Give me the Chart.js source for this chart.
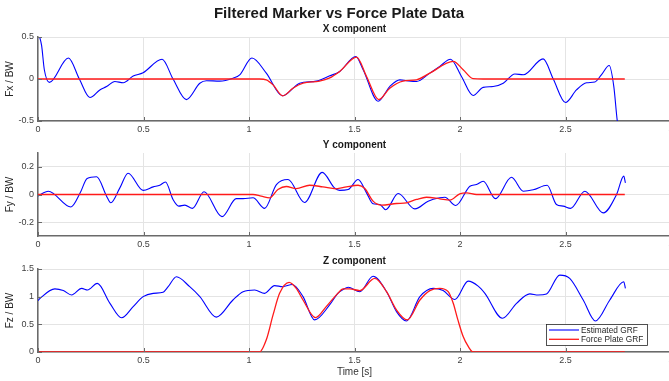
<!DOCTYPE html>
<html>
<head>
<meta charset="utf-8">
<script src="https://cdn.jsdelivr.net/npm/chart.js@4.4.1/dist/chart.umd.min.js"></script>
<style>
  html, body { margin: 0; padding: 0; background: #fff; }
  #page { position: relative; width: 669px; height: 381px; overflow: hidden; background: #fff; }
  .panel { position: absolute; left: 0; width: 690px; }
  canvas { display: block; }
</style>
</head>
<body>
<div id="page">
  <div class="panel" style="top:0;height:140px"><canvas id="cx" width="690" height="140"></canvas></div>
  <div class="panel" style="top:140px;height:110px"><canvas id="cy" width="690" height="110"></canvas></div>
  <div class="panel" style="top:250px;height:131px"><canvas id="cz" width="690" height="131"></canvas></div>
</div>
<script>
// ---- data: ground reaction force normalised by body weight ----
const timeTicks = [0, 0.5, 1, 1.5, 2, 2.5, 3];
const timeTickLabels = ['0', '0.5', '1', '1.5', '2', '2.5', '3'];
const fxTicks = [-0.5, 0, 0.5];
const fxTickLabels = ['-0.5', '0', '0.5'];
const fyTicks = [-0.2, 0, 0.2];
const fyTickLabels = ['-0.2', '0', '0.2'];
const fzTicks = [0, 0.5, 1, 1.5];
const fzTickLabels = ['0', '0.5', '1', '1.5'];

// X component
const fxEstTime = [0, 0.017, 0.030, 0.054, 0.144, 0.196, 0.246, 0.293, 0.325, 0.364, 0.404, 0.451, 0.498, 0.588, 0.640, 0.703, 0.767, 0.798, 0.861, 0.924, 0.956, 1.014, 1.082, 1.158, 1.240, 1.319, 1.380, 1.430, 1.506, 1.541, 1.612, 1.667, 1.715, 1.746, 1.794, 1.857, 1.904, 1.955, 2.007, 2.062, 2.110, 2.157, 2.205, 2.260, 2.300, 2.394, 2.442, 2.500, 2.552, 2.600, 2.639, 2.670, 2.707, 2.729, 2.745, 2.752];
const fxEst = [0.56, 0.40, 0.11, -0.04, 0.25, 0.0, -0.22, -0.13, -0.09, -0.03, -0.045, 0.035, 0.075, 0.235, 0.0, -0.245, -0.05, -0.02, -0.025, 0.01, 0.05, 0.25, 0.07, -0.2, -0.05, -0.025, 0.035, 0.09, 0.268, 0.11, -0.264, -0.09, -0.01, -0.02, -0.03, 0.07, 0.15, 0.236, 0.03, -0.196, -0.10, -0.09, -0.05, 0.06, 0.05, 0.24, 0.0, -0.28, -0.13, -0.045, -0.035, 0.05, 0.16, -0.09, -0.49, -0.6];
const fxPlateTime = [0, 1.050, 1.082, 1.114, 1.160, 1.208, 1.256, 1.334, 1.380, 1.430, 1.510, 1.557, 1.615, 1.667, 1.730, 1.794, 1.857, 1.968, 2.015, 2.062, 2.110, 2.781];
const fxPlate = [0, 0, -0.01, -0.07, -0.2, -0.11, -0.05, -0.025, 0.01, 0.09, 0.26, 0.03, -0.245, -0.11, -0.025, -0.01, 0.07, 0.21, 0.11, 0.005, 0, 0];

// Y component
const fyEstTime = [0, 0.049, 0.156, 0.200, 0.233, 0.278, 0.325, 0.345, 0.388, 0.427, 0.498, 0.546, 0.577, 0.604, 0.640, 0.667, 0.696, 0.732, 0.787, 0.872, 0.940, 0.972, 1.019, 1.074, 1.130, 1.185, 1.263, 1.347, 1.405, 1.430, 1.470, 1.517, 1.557, 1.588, 1.620, 1.648, 1.707, 1.786, 1.849, 1.904, 1.928, 1.980, 2.047, 2.078, 2.110, 2.168, 2.244, 2.300, 2.347, 2.413, 2.457, 2.489, 2.524, 2.592, 2.679, 2.742, 2.776, 2.784];
const fyEst = [-0.01, 0.024, -0.09, 0.012, 0.116, 0.128, -0.012, -0.06, 0.048, 0.154, 0.03, 0.055, 0.067, 0.09, -0.036, -0.084, -0.077, -0.1, 0.02, -0.16, -0.03, -0.03, -0.024, -0.1, 0.072, 0.108, -0.058, 0.16, 0.048, 0.03, 0.036, 0.108, 0.012, -0.067, -0.072, -0.11, 0.007, -0.104, -0.048, -0.024, -0.02, -0.08, 0.06, 0.072, 0.096, -0.03, 0.125, 0.024, 0.034, 0.067, -0.072, -0.084, -0.1, 0.024, -0.133, 0, 0.133, 0.084];
const fyPlateTime = [0, 1.019, 1.058, 1.098, 1.137, 1.177, 1.224, 1.287, 1.350, 1.413, 1.462, 1.517, 1.549, 1.588, 1.628, 1.699, 1.746, 1.794, 1.841, 1.904, 1.952, 1.999, 2.031, 2.078, 2.781];
const fyPlate = [0, 0, -0.012, -0.024, 0.036, 0.058, 0.043, 0.067, 0.055, 0.041, 0.055, 0.067, 0.043, -0.048, -0.077, -0.065, -0.06, -0.036, -0.02, -0.031, -0.041, 0.005, 0.012, 0, 0];

// Z component
const fzEstTime = [0, 0.010, 0.080, 0.120, 0.159, 0.207, 0.235, 0.281, 0.341, 0.396, 0.451, 0.498, 0.546, 0.593, 0.617, 0.656, 0.719, 0.767, 0.845, 0.924, 0.972, 1.027, 1.074, 1.121, 1.160, 1.205, 1.256, 1.311, 1.382, 1.421, 1.446, 1.470, 1.525, 1.588, 1.652, 1.699, 1.746, 1.810, 1.873, 1.920, 1.976, 2.039, 2.086, 2.118, 2.201, 2.268, 2.331, 2.370, 2.410, 2.473, 2.520, 2.584, 2.642, 2.710, 2.776, 2.784];
const fzEst = [0.93, 0.97, 1.14, 1.11, 1.03, 1.15, 1.12, 1.24, 0.88, 0.62, 0.82, 1.0, 1.06, 1.08, 1.18, 1.36, 1.18, 1.0, 0.63, 0.94, 1.09, 1.12, 1.06, 1.2, 1.18, 1.22, 1.0, 0.58, 0.85, 1.06, 1.13, 1.17, 1.09, 1.37, 1.09, 0.73, 0.56, 1.0, 1.15, 1.11, 0.95, 1.28, 1.19, 1.06, 0.61, 0.88, 1.05, 1.03, 1.05, 1.39, 1.33, 0.94, 0.56, 0.94, 1.27, 1.15];
const fzPlateTime = [0, 1.050, 1.082, 1.114, 1.145, 1.190, 1.224, 1.256, 1.315, 1.366, 1.421, 1.446, 1.478, 1.525, 1.596, 1.652, 1.699, 1.750, 1.810, 1.857, 1.904, 1.944, 1.968, 1.990, 2.015, 2.039, 2.062, 2.781];
const fzPlate = [0, 0, 0.22, 0.67, 1.06, 1.26, 1.15, 0.94, 0.62, 0.82, 1.06, 1.14, 1.14, 1.11, 1.33, 1.09, 0.76, 0.58, 0.94, 1.11, 1.15, 1.09, 0.88, 0.58, 0.28, 0.1, 0, 0];

const seriesNames = ['Estimated GRF', 'Force Plate GRF'];

// ---- styling ----
const FONT = '"Liberation Sans", Arial, Helvetica, sans-serif';
Chart.defaults.font.family = FONT;
Chart.defaults.font.size = 9;
const BLUE = '#0000ff';
const RED = '#ff1a1a';
const GRID = '#e4e4e4';
const AXIS = '#6a6a6a';

const pts = (ts, vs) => ts.map((t, i) => ({ x: t, y: vs[i] }));
const labelFor = (values, labels) => v => {
  const i = values.findIndex(u => Math.abs(u - v) < 1e-9);
  return i >= 0 ? labels[i] : '';
};

// inward tick marks, panel headings, figure title and legend
const panelDecor = {
  id: 'panelDecor',
  afterDraw(chart, args, opts) {
    const { ctx, chartArea: a, scales } = chart;
    const xs = scales.x, ys = scales.y;
    ctx.save();
    ctx.strokeStyle = AXIS;
    ctx.lineWidth = 1;
    ctx.beginPath();
    xs.ticks.forEach(t => {
      const p = Math.round(xs.getPixelForValue(t.value)) + 0.5;
      ctx.moveTo(p, a.bottom); ctx.lineTo(p, a.bottom - 4);
    });
    ys.ticks.forEach(t => {
      const p = Math.round(ys.getPixelForValue(t.value)) + 0.5;
      ctx.moveTo(a.left, p); ctx.lineTo(a.left + 4, p);
    });
    ctx.stroke();

    ctx.fillStyle = '#1a1a1a';
    ctx.textAlign = 'center';
    ctx.textBaseline = 'middle';
    ctx.font = 'bold 10px ' + FONT;
    ctx.fillText(opts.heading, (a.left + a.right) / 2, a.top - 8);

    if (opts.mainTitle) {
      ctx.font = 'bold 15px ' + FONT;
      ctx.fillText(opts.mainTitle, opts.mainX, opts.mainY);
    }

    if (opts.legend) {
      const L = opts.legend;
      ctx.fillStyle = '#fff';
      ctx.fillRect(L.left, L.top, L.width, L.height);
      ctx.strokeStyle = '#262626';
      ctx.lineWidth = 0.8;
      ctx.strokeRect(L.left + 0.5, L.top + 0.5, L.width, L.height);
      ctx.font = '8.3px ' + FONT;
      ctx.textAlign = 'left';
      chart.data.datasets.forEach((ds, i) => {
        const yy = L.top + 6 + i * 9.3;
        ctx.strokeStyle = ds.borderColor;
        ctx.lineWidth = ds.borderWidth;
        ctx.beginPath();
        ctx.moveTo(L.left + 3, yy); ctx.lineTo(L.left + 33, yy);
        ctx.stroke();
        ctx.fillStyle = '#262626';
        ctx.fillText(ds.label, L.left + 35, yy + 0.5);
      });
    }
    ctx.restore();
  }
};

function makePanel(id, cfg) {
  return new Chart(document.getElementById(id), {
    type: 'line',
    data: {
      datasets: [
        { label: seriesNames[0], data: pts(cfg.estT, cfg.est), borderColor: BLUE, borderWidth: 1.1, order: 1 },
        { label: seriesNames[1], data: pts(cfg.plateT, cfg.plate), borderColor: RED, borderWidth: 1.3, order: 0 }
      ]
    },
    options: {
      responsive: false,
      animation: false,
      devicePixelRatio: 1,
      parsing: false,
      elements: { point: { radius: 0 }, line: { cubicInterpolationMode: 'monotone' } },
      layout: { padding: { top: cfg.padTop, bottom: cfg.padBottom, left: 0, right: 19 } },
      plugins: {
        legend: { display: false },
        tooltip: { enabled: false },
        title: { display: false },
        panelDecor: cfg.decor
      },
      scales: {
        x: {
          type: 'linear', min: 0, max: 3,
          afterFit: s => { s.height = cfg.xAxisH; },
          afterBuildTicks: s => { s.ticks = timeTicks.map(v => ({ value: v })); },
          grid: { color: GRID, lineWidth: 1, drawTicks: false },
          border: { display: true, color: AXIS, width: 1.5 },
          ticks: { color: '#404040', padding: 3, maxRotation: 0, autoSkip: false, font: { size: 9 },
                   callback: labelFor(timeTicks, timeTickLabels) },
          title: cfg.xTitle ? { display: true, text: cfg.xTitle, color: '#333', font: { size: 10 }, padding: { top: 0, bottom: 3 } } : { display: false }
        },
        y: {
          type: 'linear', min: cfg.yMin, max: cfg.yMax,
          afterFit: s => { s.width = 38; },
          afterBuildTicks: s => { s.ticks = cfg.yTicks.map(v => ({ value: v })); },
          grid: { color: GRID, lineWidth: 1, drawTicks: false },
          border: { display: true, color: AXIS, width: 1.5 },
          ticks: { color: '#404040', padding: 4, font: { size: 9 },
                   callback: labelFor(cfg.yTicks, cfg.yTickLabels) },
          title: { display: true, text: cfg.yTitle, color: '#262626', font: { size: 10 }, padding: { top: 4, bottom: 0 } }
        }
      }
    },
    plugins: [panelDecor]
  });
}

makePanel('cx', {
  estT: fxEstTime, est: fxEst, plateT: fxPlateTime, plate: fxPlate,
  yMin: -0.5, yMax: 0.5, yTicks: fxTicks, yTickLabels: fxTickLabels, yTitle: 'Fx / BW',
  padTop: 37, padBottom: 5, xAxisH: 14,
  decor: { heading: 'X component', mainTitle: 'Filtered Marker vs Force Plate Data', mainX: 339, mainY: 14 }
});

makePanel('cy', {
  estT: fyEstTime, est: fyEst, plateT: fyPlateTime, plate: fyPlate,
  yMin: -0.3, yMax: 0.3, yTicks: fyTicks, yTickLabels: fyTickLabels, yTitle: 'Fy / BW',
  padTop: 13, padBottom: 0, xAxisH: 14,
  decor: { heading: 'Y component' }
});

makePanel('cz', {
  estT: fzEstTime, est: fzEst, plateT: fzPlateTime, plate: fzPlate,
  yMin: 0, yMax: 1.5, yTicks: fzTicks, yTickLabels: fzTickLabels, yTitle: 'Fz / BW', xTitle: 'Time [s]',
  padTop: 19, padBottom: 0, xAxisH: 29,
  decor: { heading: 'Z component', legend: { left: 546, top: 74, width: 101, height: 21 } }
});
</script>
</body>
</html>
